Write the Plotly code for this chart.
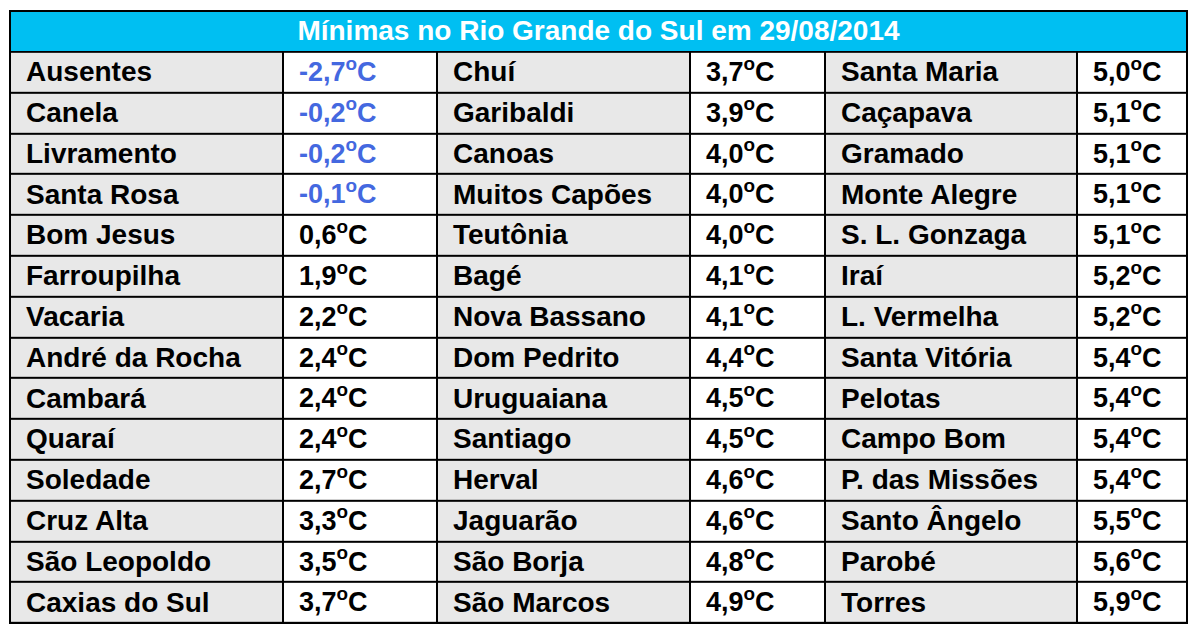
import plotly.graph_objects as go

# Minimas no RS em 29/08/2014
title = "Mínimas no Rio Grande do Sul em 29/08/2014"

cities_1 = ["Ausentes", "Canela", "Livramento", "Santa Rosa", "Bom Jesus", "Farroupilha",
            "Vacaria", "André da Rocha", "Cambará", "Quaraí", "Soledade", "Cruz Alta",
            "São Leopoldo", "Caxias do Sul"]
temps_1 = [-2.7, -0.2, -0.2, -0.1, 0.6, 1.9, 2.2, 2.4, 2.4, 2.4, 2.7, 3.3, 3.5, 3.7]

cities_2 = ["Chuí", "Garibaldi", "Canoas", "Muitos Capões", "Teutônia", "Bagé",
            "Nova Bassano", "Dom Pedrito", "Uruguaiana", "Santiago", "Herval", "Jaguarão",
            "São Borja", "São Marcos"]
temps_2 = [3.7, 3.9, 4.0, 4.0, 4.0, 4.1, 4.1, 4.4, 4.5, 4.5, 4.6, 4.6, 4.8, 4.9]

cities_3 = ["Santa Maria", "Caçapava", "Gramado", "Monte Alegre", "S. L. Gonzaga", "Iraí",
            "L. Vermelha", "Santa Vitória", "Pelotas", "Campo Bom", "P. das Missões",
            "Santo Ângelo", "Parobé", "Torres"]
temps_3 = [5.0, 5.1, 5.1, 5.1, 5.1, 5.2, 5.2, 5.4, 5.4, 5.4, 5.4, 5.5, 5.6, 5.9]

# column edges in pixels (name, temp, name, temp, name, temp)
col_edges = [0, 273, 427, 680, 815, 1067, 1177]

GRAY = "#e8e8e8"
WHITE = "#ffffff"
CYAN = "#00bff2"
BLUE = "#4468e0"
FONT = "Arial, Liberation Sans"

n_rows = len(cities_1)
rows = list(range(1, n_rows + 1))
text_rows = [r + 0.05 for r in rows]  # nudge text down a touch so caps sit centred


def fmt(v):
    return f"{v:.1f}".replace(".", ",") + "<sup>o</sup>C"


# 0 = name cell (gray), 1 = temp cell (white), 2 = title bar (cyan)
z_cells = [[0, 1, 0, 1, 0, 1] for _ in rows]
scale = [[0, GRAY], [0.5, WHITE], [1, CYAN]]

fig = go.Figure()
fig.add_trace(go.Heatmap(x=col_edges, y=rows, z=z_cells, zmin=0, zmax=2,
                         colorscale=scale, showscale=False, xgap=2, ygap=2,
                         hoverinfo="skip"))
fig.add_trace(go.Heatmap(x=[col_edges[0], col_edges[-1]], y=[0], z=[[2]], zmin=0, zmax=2,
                         colorscale=scale, showscale=False, xgap=2, ygap=2,
                         hoverinfo="skip"))

# title text
fig.add_trace(go.Scatter(x=[col_edges[-1] / 2], y=[0.05], mode="text", text=[title],
                         textposition="middle center", hoverinfo="skip",
                         textfont=dict(family=FONT, size=28, color="white", weight="bold")))

# cell texts
for k, (names, temps) in enumerate([(cities_1, temps_1), (cities_2, temps_2),
                                     (cities_3, temps_3)]):
    name_left = col_edges[2 * k]
    temp_left = col_edges[2 * k + 1]
    fig.add_trace(go.Scatter(x=[name_left + 16] * n_rows, y=text_rows, mode="text",
                             text=names, textposition="middle right", hoverinfo="skip",
                             textfont=dict(family=FONT, size=28, color="black",
                                           weight="bold")))
    fig.add_trace(go.Scatter(x=[temp_left + 16] * n_rows, y=text_rows, mode="text",
                             text=[fmt(t) for t in temps],
                             textposition="middle right", hoverinfo="skip",
                             textfont=dict(family=FONT, size=27, weight="bold",
                                           color=[BLUE if t < 0 else "black" for t in temps])))

# page body has an 8px margin, so the figure sits 8px in from the corner
W, H = 1184, 616
pad = 1.0 / 40.8
fig.update_layout(
    width=W, height=H, margin=dict(l=1, r=W - 1180, t=2, b=0),
    paper_bgcolor="white", plot_bgcolor="black", showlegend=False,
    xaxis=dict(range=[-1, 1178], visible=False, fixedrange=True),
    yaxis=dict(range=[n_rows + 0.5 + pad, -0.5 - pad], visible=False, fixedrange=True),
)

fig.write_html("out.html")
